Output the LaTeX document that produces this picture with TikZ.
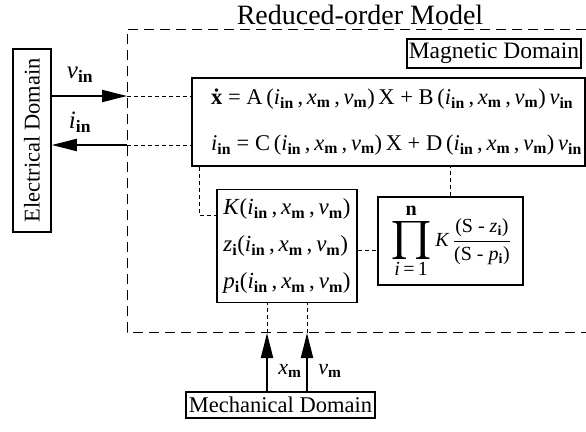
\documentclass[tikz,border=0pt]{standalone}
\usepackage{fontspec}
\setmainfont{Liberation Serif}
\usepackage{amsmath}
\usetikzlibrary{positioning,arrows.meta}

\newcommand{\vs}[2]{\textit{#1}\textsubscript{\textbf{#2}}}
\newcommand{\args}{(\vs{i}{in}\,,\,\vs{x}{m}\,,\,\vs{v}{m})}

\tikzset{
  domainbox/.style={draw,line width=1.6pt,inner sep=0pt,font=\fontsize{22.5}{26}\selectfont},
  eqbox/.style={draw,line width=1.6pt,inner sep=0pt},
  sigarrow/.style={line width=2pt,-{Triangle[length=25pt,width=12pt]}},
  link/.style={dash pattern=on 4pt off 3pt,line width=0.9pt},
  outline/.style={dash pattern=on 10pt off 6pt,line width=1pt},
}

\begin{document}
\begin{tikzpicture}[x=1pt,y=-1pt]
  \useasboundingbox (0,0) rectangle (586,431);

  \node (title) at (360,15) {\fontsize{28}{30}\selectfont Reduced-order Model};
  \draw[outline] (586,29) -- (127,29) -- (127,332) -- (586,332);

  \node[domainbox,rotate=90,minimum width=183pt,minimum height=38pt] (elec) at (32,140.5) {Electrical Domain};
  \node[domainbox,minimum width=174pt,minimum height=29pt,font=\fontsize{23.5}{26}\selectfont] (magn) at (494,53.5) {Magnetic Domain};
  \node[domainbox,minimum width=189pt,minimum height=26pt] (mech) at (280.5,405) {Mechanical Domain};

  \node[eqbox,minimum width=393pt,minimum height=88pt,align=left,font=\fontsize{22.5}{46}\selectfont] (eqn) at (388.5,122)
    {\hspace*{16pt}\textbf{\.x} = A\,\args\,X + B\,\args\,\vs{v}{in}\\
     \hspace*{16pt}\vs{i}{in} = C\,\args\,X + D\,\args\,\vs{v}{in}};
  \node[eqbox,minimum width=140pt,minimum height=113pt,align=left,font=\fontsize{23}{37}\selectfont] (param) at (287,246)
    {\textit{K}\args\\ \vs{z}{i}\args\\ \vs{p}{i}\args};
  \node[eqbox,minimum width=145pt,minimum height=88pt,font=\fontsize{20}{22}\selectfont] (prod) at (450.5,241)
    {$\vcenter{\offinterlineskip\halign{\hfil#\hfil\cr
        \textbf{n}\cr\noalign{\vskip6pt}
        \resizebox*{42pt}{38pt}{$\prod$}\cr\noalign{\vskip3pt}
        \textit{i}\,=\,1\cr}}$%
     \,\textit{K}\,$\dfrac{\text{(S - \vs{z}{i})}}{\text{(S - \vs{p}{i})}}$};

  % electrical side
  \coordinate (vin) at (127,96);
  \coordinate (iin) at (127,145);
  \draw[sigarrow] (elec.south |- vin) -- (vin);
  \draw[sigarrow] (iin) -- (elec.south |- iin);
  \draw[link] (vin) -- (eqn.west |- vin);
  \draw[link] (iin) -- (eqn.west |- iin);
  \node (vinlab) at (80,75) {\fontsize{25}{28}\selectfont\vs{v}{in}};
  \node (iinlab) at (80,122) {\fontsize{25}{28}\selectfont\vs{i}{in}};

  % inside the model
  \coordinate (kbend) at (199,215);
  \coordinate (zrow) at (367,250);
  \draw[link] (kbend |- eqn.south) -- (kbend) -- (param.west |- kbend);
  \draw[link] (prod.north) -- (prod.north |- eqn.south);
  \draw[link] (param.east |- zrow) -- (prod.west |- zrow);

  % mechanical side
  \coordinate (xm) at (267,333);
  \coordinate (vm) at (307,333);
  \draw[sigarrow] (mech.north -| xm) -- (xm);
  \draw[sigarrow] (mech.north -| vm) -- (vm);
  \draw[link] (xm) -- (param.south -| xm);
  \draw[link] (vm) -- (param.south -| vm);
  \node (xmlab) at (290,371) {\fontsize{22}{24}\selectfont\vs{x}{m}};
  \node (vmlab) at (330,371) {\fontsize{22}{24}\selectfont\vs{v}{m}};
\end{tikzpicture}
\end{document}
